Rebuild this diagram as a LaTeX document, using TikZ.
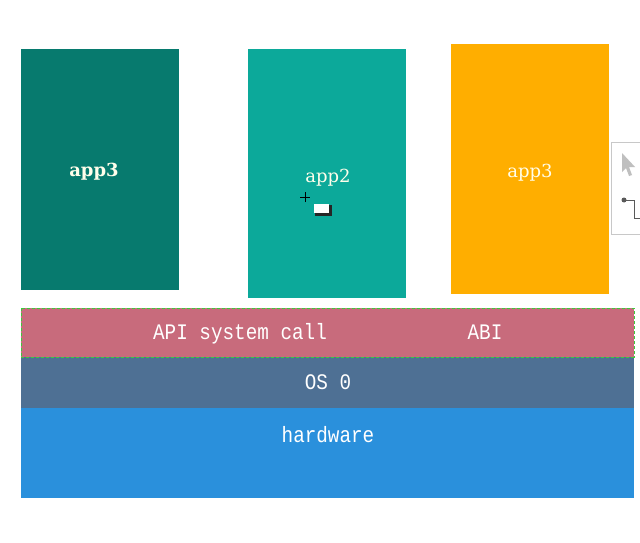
\documentclass[tikz,border=0pt]{standalone}
\usepackage{fontspec}
\newfontfamily\monof{Liberation Mono}
\newfontfamily\serf{DejaVu Serif}
\definecolor{appdark}{HTML}{077A6E}
\definecolor{appmid}{HTML}{0CA99A}
\definecolor{apporange}{HTML}{FFAE00}
\definecolor{apilayer}{HTML}{C86B7C}
\definecolor{oslayer}{HTML}{4E7094}
\definecolor{hwlayer}{HTML}{2A90DC}
\definecolor{dashgreen}{HTML}{3CCB3C}
\definecolor{widgetgray}{HTML}{C8C8C8}
\begin{document}
\begin{tikzpicture}[x=1pt,y=-1pt,
  box/.style={draw=none, inner sep=0pt, outer sep=0pt, anchor=north west, text=white},
  applabel/.style={font=\serf\fontsize{18}{20}\selectfont, text=white!92!yellow, anchor=base, inner sep=0pt},
  monolabel/.style={font=\monof\fontsize{19.3}{22}\selectfont, text=white, inner sep=0pt, anchor=base, yscale=1.15}]
\useasboundingbox[fill=white] (0,0) rectangle (640,543);
% app boxes
\node[box, fill=appdark, minimum width=158pt, minimum height=241pt] (appA) at (21,49) {};
\node[applabel, font=\serf\bfseries\fontsize{18}{20}\selectfont] (appAlbl) at (94,176) {app3};
\node[box, fill=appmid, minimum width=158pt, minimum height=249pt] (appB) at (248,49) {};
\node[applabel] (appBlbl) at (328,182) {app2};
\node[box, fill=apporange, minimum width=158pt, minimum height=250pt] (appC) at (451,44) {};
\node[applabel] (appClbl) at (530,177) {app3};
% cursor in app2
\coordinate (crossc) at (305,197);
\draw[black, line width=0.9pt] ([xshift=-5pt]crossc) -- ([xshift=5pt]crossc);
\draw[black, line width=0.9pt] ([yshift=-5pt]crossc) -- ([yshift=5pt]crossc);
\node[box, fill=black!85, minimum width=17pt, minimum height=11pt] (curshadow) at (315,205) {};
\node[box, fill=white, minimum width=15pt, minimum height=9pt] (curbox) at (314,204) {};
% right widget
\node[box, fill=white, draw=widgetgray, line width=0.8pt, minimum width=40pt, minimum height=92pt] (widget) at (611,142) {};
\fill[black!25] (622,153) -- (622,172) -- (626,168) -- (629,176) -- (632,175) -- (629,167) -- (635,167) -- cycle;
\coordinate (dotc) at (624,200);
\fill[black!65] (dotc) circle (2.5pt);
\draw[black!65, line width=0.9pt] (dotc) -- (634,200) -- (634,218) -- (641,218);
% layers
\node[box, fill=apilayer, minimum width=613pt, minimum height=49pt] (api) at (21,308) {};
\draw[dashgreen, dashed, dash pattern=on 3pt off 2pt, line width=1pt] (api.north west) rectangle (api.south east);
\node[monolabel] (apitxt) at (240,339) {API system call};
\node[monolabel] (abitxt) at (485,339) {ABI};
\node[box, fill=oslayer, minimum width=613pt, minimum height=51pt] (os) at (21,357) {};
\node[monolabel] (ostxt) at (328,389) {OS 0};
\node[box, fill=hwlayer, minimum width=613pt, minimum height=90pt] (hw) at (21,408) {};
\node[monolabel] (hwtxt) at (328,442) {hardware};
\draw[dashgreen, dashed, dash pattern=on 3pt off 2pt, line width=1pt] (api.south west) -- (api.south east);
\end{tikzpicture}
\end{document}
